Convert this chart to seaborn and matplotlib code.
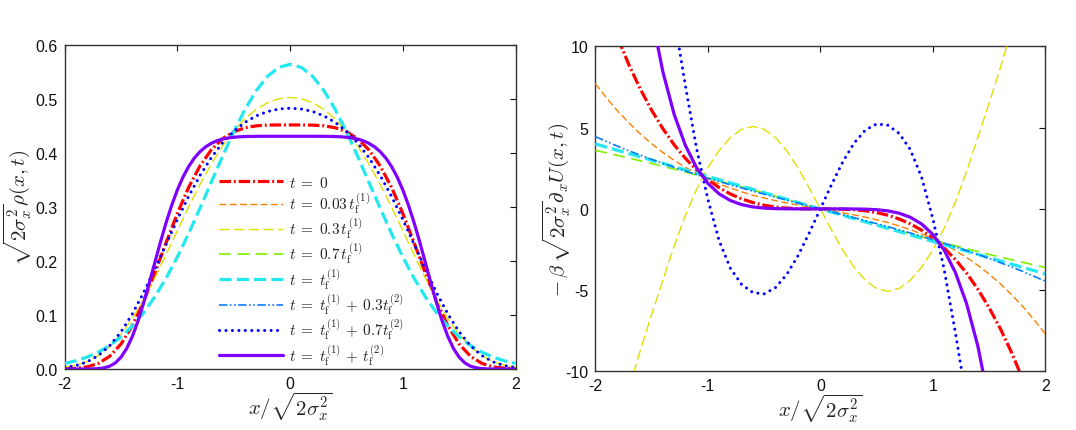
import numpy as np
import pandas as pd
import matplotlib
matplotlib.use("Agg")
import matplotlib.pyplot as plt
import seaborn as sns
from matplotlib.lines import Line2D

nan = np.nan
# sample positions x / sqrt(2 sigma_x^2)
X = np.round(np.linspace(-2, 2, 41), 2)
X_FINE = np.round(np.linspace(-2, 2, 81), 2)

# ---------- left panel: sqrt(2 sigma^2) rho(x,t) ----------
rho_t0 = [0.0003, 0.0013, 0.0040, 0.0105, 0.0237, 0.0463, 0.0802, 0.1250, 0.1778, 0.2339,
          0.2882, 0.3365, 0.3759, 0.4057, 0.4264, 0.4395, 0.4468, 0.4504, 0.4517, 0.4520,
          0.4520,
          0.4520, 0.4517, 0.4504, 0.4468, 0.4395, 0.4264, 0.4057, 0.3759, 0.3365, 0.2882,
          0.2339, 0.1778, 0.1250, 0.0802, 0.0463, 0.0237, 0.0105, 0.0040, 0.0013, 0.0003]
rho_03 = [0.0034, 0.0072, 0.0140, 0.0250, 0.0415, 0.0642, 0.0935, 0.1286, 0.1686, 0.2119,
          0.2563, 0.3001, 0.3415, 0.3793, 0.4125, 0.4406, 0.4634, 0.4809, 0.4932, 0.5006,
          0.5030,
          0.5006, 0.4932, 0.4809, 0.4634, 0.4406, 0.4125, 0.3793, 0.3415, 0.3001, 0.2563,
          0.2119, 0.1686, 0.1286, 0.0935, 0.0642, 0.0415, 0.0250, 0.0140, 0.0072, 0.0034]
rho_tf1 = [0.0103, 0.0153, 0.0221, 0.0314, 0.0436, 0.0595, 0.0795, 0.1041, 0.1337, 0.1682,
           0.2076, 0.2510, 0.2975, 0.3456, 0.3936, 0.4394, 0.4808, 0.5156, 0.5421, 0.5586,
           0.5642,
           0.5586, 0.5421, 0.5156, 0.4808, 0.4394, 0.3936, 0.3456, 0.2975, 0.2510, 0.2076,
           0.1682, 0.1337, 0.1041, 0.0795, 0.0595, 0.0436, 0.0314, 0.0221, 0.0153, 0.0103]
rho_07b = [0.0027, 0.0063, 0.0132, 0.0250, 0.0433, 0.0689, 0.1019, 0.1413, 0.1853, 0.2314,
           0.2769, 0.3198, 0.3582, 0.3912, 0.4186, 0.4403, 0.4568, 0.4688, 0.4769, 0.4815,
           0.4830,
           0.4815, 0.4769, 0.4688, 0.4568, 0.4403, 0.4186, 0.3912, 0.3582, 0.3198, 0.2769,
           0.2314, 0.1853, 0.1413, 0.1019, 0.0689, 0.0433, 0.0250, 0.0132, 0.0063, 0.0027]
# final state, read on the finer grid (X_FINE)
rho_end = [0.0000, 0.0000, 0.0000, 0.0000, 0.0001, 0.0002, 0.0008, 0.0022, 0.0053, 0.0114,
           0.0219, 0.0379, 0.0601, 0.0884, 0.1219, 0.1588, 0.1973, 0.2353, 0.2711, 0.3035,
           0.3317, 0.3556, 0.3750, 0.3905, 0.4024, 0.4114, 0.4179, 0.4226, 0.4258, 0.4279,
           0.4292, 0.4301, 0.4305, 0.4308, 0.4309, 0.4310, 0.4310, 0.4310, 0.4310, 0.4310,
           0.4310,
           0.4310, 0.4310, 0.4310, 0.4310, 0.4310, 0.4309, 0.4308, 0.4305, 0.4301, 0.4292,
           0.4279, 0.4258, 0.4226, 0.4179, 0.4114, 0.4024, 0.3905, 0.3750, 0.3556, 0.3317,
           0.3035, 0.2711, 0.2353, 0.1973, 0.1588, 0.1219, 0.0884, 0.0601, 0.0379, 0.0219,
           0.0114, 0.0053, 0.0022, 0.0008, 0.0002, 0.0001, 0.0000, 0.0000, 0.0000, 0.0000]

# ---------- right panel: -beta sqrt(2 sigma^2) d_x U(x,t) ----------
F_t0 = [nan, nan, 10.50, 8.84, 7.37, 6.08, 4.94, 3.95, 3.11, 2.40,
        1.80, 1.31, 0.92, 0.62, 0.39, 0.225, 0.115, 0.049, 0.014, 0.002,
        0.0,
        -0.002, -0.014, -0.049, -0.115, -0.225, -0.39, -0.62, -0.92, -1.31, -1.80,
        -2.40, -3.11, -3.95, -4.94, -6.08, -7.37, -8.84, -10.50, nan, nan]
F_003 = [7.70, 6.82, 6.01, 5.28, 4.61, 4.01, 3.47, 2.99, 2.56, 2.17,
         1.84, 1.54, 1.28, 1.05, 0.84, 0.67, 0.51, 0.37, 0.24, 0.12,
         0.0,
         -0.12, -0.24, -0.37, -0.51, -0.67, -0.84, -1.05, -1.28, -1.54, -1.84,
         -2.17, -2.56, -2.99, -3.47, -4.01, -4.61, -5.28, -6.01, -6.82, -7.70]
F_03 = [nan, nan, nan, -11.0, -8.7, -6.5, -4.4, -2.3, -0.4, 1.2,
        2.54, 3.59, 4.39, 4.90, 5.07, 4.90, 4.39, 3.59, 2.54, 1.31,
        0.0,
        -1.31, -2.54, -3.59, -4.39, -4.90, -5.07, -4.90, -4.39, -3.59, -2.54,
        -1.2, 0.4, 2.3, 4.4, 6.5, 8.7, 11.0, nan, nan, nan]
F_07 = [3.60, 3.45, 3.29, 3.13, 2.96, 2.80, 2.62, 2.45, 2.27, 2.09,
        1.91, 1.72, 1.54, 1.35, 1.16, 0.97, 0.78, 0.58, 0.39, 0.19,
        0.0,
        -0.19, -0.39, -0.58, -0.78, -0.97, -1.16, -1.35, -1.54, -1.72, -1.91,
        -2.09, -2.27, -2.45, -2.62, -2.80, -2.96, -3.13, -3.29, -3.45, -3.60]
F_tf1 = [4.0, 3.8, 3.6, 3.4, 3.2, 3.0, 2.8, 2.6, 2.4, 2.2,
         2.0, 1.8, 1.6, 1.4, 1.2, 1.0, 0.8, 0.6, 0.4, 0.2,
         0.0,
         -0.2, -0.4, -0.6, -0.8, -1.0, -1.2, -1.4, -1.6, -1.8, -2.0,
         -2.2, -2.4, -2.6, -2.8, -3.0, -3.2, -3.4, -3.6, -3.8, -4.0]
F_03b = [4.45, 4.15, 3.85, 3.57, 3.31, 3.05, 2.80, 2.56, 2.33, 2.11,
         1.89, 1.69, 1.48, 1.29, 1.09, 0.91, 0.72, 0.54, 0.36, 0.18,
         0.0,
         -0.18, -0.36, -0.54, -0.72, -0.91, -1.09, -1.29, -1.48, -1.69, -1.89,
         -2.11, -2.33, -2.56, -2.80, -3.05, -3.31, -3.57, -3.85, -4.15, -4.45]
F_07b = [nan, nan, nan, nan, nan, nan, nan, 11.8, 7.6, 3.7,
         0.6, -1.95, -3.65, -4.65, -5.15, -5.23, -4.85, -4.05, -2.9, -1.5,
         0.0,
         1.5, 2.9, 4.05, 4.85, 5.23, 5.15, 4.65, 3.65, 1.95, -0.6,
         -3.7, -7.6, -11.8, nan, nan, nan, nan, nan, nan, nan]
F_end = [nan, nan, nan, nan, nan, 11.92, 8.44, 5.83, 3.91, 2.53,
         1.57, 0.927, 0.515, 0.264, 0.122, 0.049, 0.016, 0.004, 0.0005, 0.0,
         0.0,
         0.0, -0.0005, -0.004, -0.016, -0.049, -0.122, -0.264, -0.515, -0.927, -1.57,
         -2.53, -3.91, -5.83, -8.44, -11.92, nan, nan, nan, nan, nan]

labels = [r"$t\;=\;0$",
          r"$t\;=\;0.03\,t_{\mathrm{f}}^{(1)}$",
          r"$t\;=\;0.3\,t_{\mathrm{f}}^{(1)}$",
          r"$t\;=\;0.7\,t_{\mathrm{f}}^{(1)}$",
          r"$t\;=\;t_{\mathrm{f}}^{(1)}$",
          r"$t\;=\;t_{\mathrm{f}}^{(1)}\,+\,0.3t_{\mathrm{f}}^{(2)}$",
          r"$t\;=\;t_{\mathrm{f}}^{(1)}\,+\,0.7t_{\mathrm{f}}^{(2)}$",
          r"$t\;=\;t_{\mathrm{f}}^{(1)}\,+\,t_{\mathrm{f}}^{(2)}$"]

styles = [
    dict(color="#FF0000", lw=2.3, ls=(0, (3.6, 0.9, 0.6, 0.9))),
    dict(color="#FF8000", lw=1.0, ls=(0, (5, 2.4))),
    dict(color="#E0E000", lw=1.0, ls=(0, (7.5, 3))),
    dict(color="#80F000", lw=1.2, ls=(0, (7, 4))),
    dict(color="#22E8F0", lw=2.3, ls=(0, (3.8, 1.6))),
    dict(color="#0A7CFF", lw=1.2, ls=(0, (5, 1.5, 1, 1.5, 1, 1.5))),
    dict(color="#0000FF", lw=2.2, ls=(0, (0.01, 2.1))),
    dict(color="#8000FF", lw=2.3, ls="-"),
]

left_series = {0: (X, rho_t0), 2: (X, rho_03), 4: (X, rho_tf1), 6: (X, rho_07b),
               7: (X_FINE, rho_end)}
right_series = {0: (X, F_t0), 1: (X, F_003), 2: (X, F_03), 3: (X, F_07), 4: (X, F_tf1),
                5: (X, F_03b), 6: (X, F_07b), 7: (X, F_end)}

sns.set_theme(style="white")
plt.rcParams["font.family"] = ["Liberation Sans", "DejaVu Sans"]
plt.rcParams["mathtext.fontset"] = "cm"
plt.rcParams["axes.unicode_minus"] = False

fig = plt.figure(figsize=(10.76, 4.31), dpi=100)
ax1 = fig.add_axes([0.0601, 0.1415, 0.419, 0.7517])
ax2 = fig.add_axes([0.5533, 0.1360, 0.4182, 0.7540])


def draw(ax, series):
    for i, (xs, vals) in series.items():
        st = styles[i]
        df = pd.DataFrame({"x": xs, "y": vals}).dropna()
        sns.lineplot(data=df, x="x", y="y", ax=ax, color=st["color"], linewidth=st["lw"],
                     linestyle=st["ls"], legend=False, estimator=None, sort=False,
                     dash_capstyle="round" if i == 6 else "butt", zorder=2 + i)


draw(ax1, left_series)
draw(ax2, right_series)

for ax in (ax1, ax2):
    ax.set_xlim(-2, 2)
    ax.set_xticks([-2, -1, 0, 1, 2])
    ax.set_xticklabels(["-2", "-1", "0", "1", "2"])
    ax.tick_params(direction="in", top=True, right=True, length=4, width=0.8,
                   labelsize=11.5, pad=5, colors="#111111")
    for sp in ax.spines.values():
        sp.set_color("#333333")
        sp.set_linewidth(1.0)
    ax.set_xlabel(r"$x/\sqrt{2\sigma_x^2}$", fontsize=15, labelpad=-1)

ax1.set_ylim(0, 0.6)
ax1.set_yticks([0, 0.1, 0.2, 0.3, 0.4, 0.5, 0.6])
ax1.set_yticklabels(["0.0", "0.1", "0.2", "0.3", "0.4", "0.5", "0.6"])
ax1.set_ylabel(r"$\sqrt{2\sigma_x^2}\rho(x,t)$", fontsize=15, labelpad=2)

ax2.set_ylim(-10, 10)
ax2.set_yticks([-10, -5, 0, 5, 10])
ax2.set_yticklabels(["-10", "-5", "0", "5", "10"])
ax2.set_ylabel(r"$-\,\beta\,\sqrt{2\sigma_x^2}\partial_x U(x,t)$", fontsize=15, labelpad=-5)

handles = [Line2D([], [], color=s["color"], lw=s["lw"], ls=s["ls"],
                  dash_capstyle="round" if k == 6 else "butt") for k, s in enumerate(styles)]
ax1.legend(handles, labels, loc="upper left", bbox_to_anchor=(0.342, 0.600),
           frameon=False, fontsize=11, handlelength=4.2, handletextpad=0.4,
           labelspacing=0.03, borderaxespad=0, borderpad=0)

fig.savefig("out.png", dpi=100)
